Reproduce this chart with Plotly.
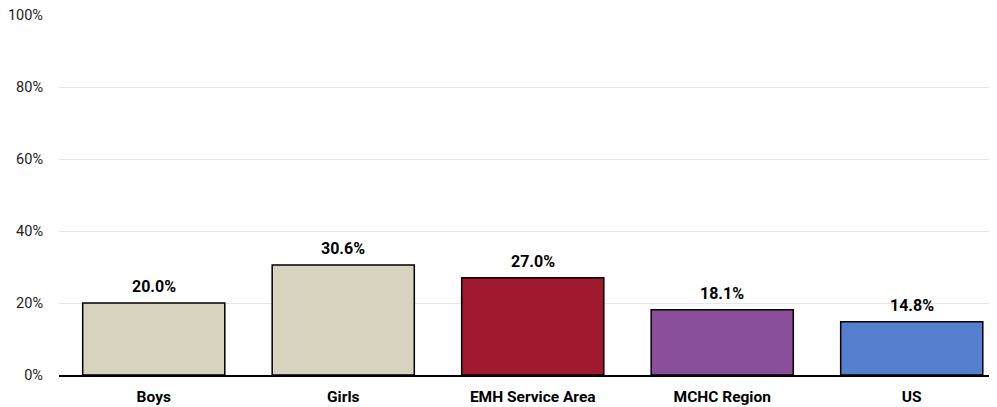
import plotly.graph_objects as go

categories = ["Boys", "Girls", "EMH Service Area", "MCHC Region", "US"]
values = [20.0, 30.6, 27.0, 18.1, 14.8]
colors = ["#D8D3BE", "#D8D3BE", "#A0192F", "#8A4E9A", "#5580D0"]
tick_vals = [0, 20, 40, 60, 80, 100]
tick_text = ["0%", "20%", "40%", "60%", "80%", "100%"]

FONT = "Roboto, Liberation Sans, Arial"
xs = list(range(len(categories)))

fig = go.Figure(go.Bar(
    x=xs, y=values,
    marker=dict(color=colors, line=dict(color="black", width=1.5)),
    hoverinfo="skip",
))
for x, v in zip(xs, values):
    fig.add_annotation(
        x=x, y=v, text=f"<b>{v:.1f}%</b>", showarrow=False,
        yanchor="bottom", yshift=5,
        font=dict(family=FONT, size=16, color="black"),
    )
fig.update_layout(
    width=989, height=399,
    margin=dict(l=51, r=0, t=7, b=32, autoexpand=False),
    paper_bgcolor="white", plot_bgcolor="white",
    bargap=0.25, showlegend=False,
    font=dict(family=FONT, color="#222"),
)
fig.update_xaxes(
    range=[-0.5, 4.45], showline=True, linecolor="black", linewidth=1.5,
    tickmode="array", tickvals=xs, ticktext=[f"<b>{c}</b>" for c in categories],
    tickfont=dict(size=15.5, color="black"), ticks="", ticklabelstandoff=7,
    automargin=False,
)
fig.update_yaxes(
    range=[0, 100.05], tickmode="array", tickvals=tick_vals, ticktext=tick_text,
    showgrid=True, gridcolor="#E6E6E6", gridwidth=1, zeroline=False,
    tickfont=dict(size=14.5, color="#222"), ticks="", ticklabelstandoff=15,
    ticklabeloverflow="allow", automargin=False,
)
fig.write_html("out.html")
